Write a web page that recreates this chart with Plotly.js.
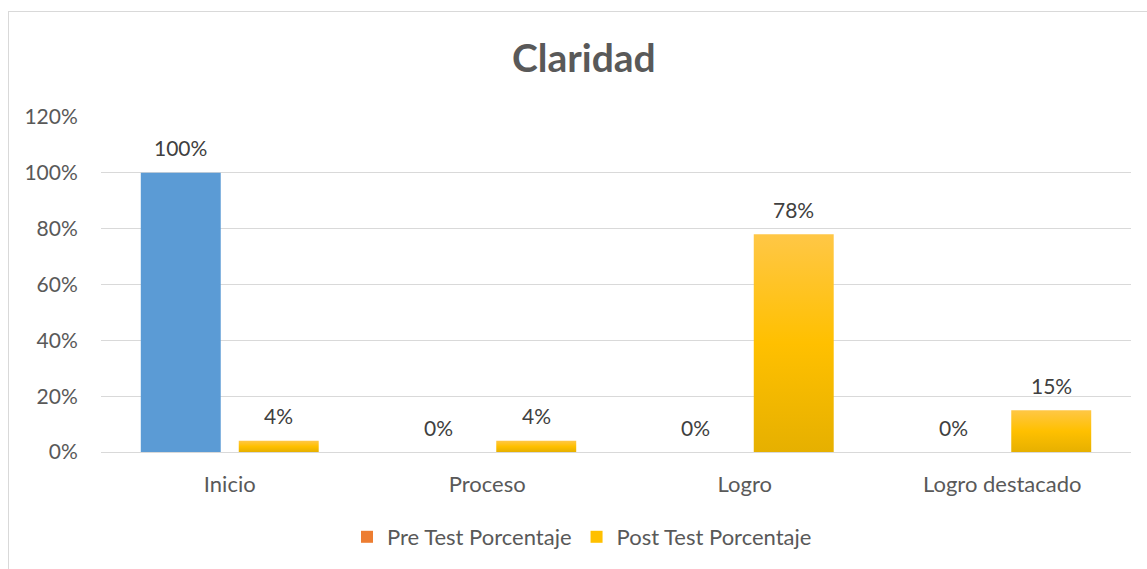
<!DOCTYPE html>
<html>
<head>
<meta charset="utf-8">
<script src="https://cdn.plot.ly/plotly-3.0.1.min.js"></script>
<style>
  html, body { margin: 0; padding: 0; background: #fff; overflow: hidden; }
  #frame { position: absolute; left: 8px; top: 11px; width: 1200px; height: 600px; border: 1px solid #d9d9d9; box-sizing: border-box; pointer-events: none; z-index: 5; }
  #chart { position: absolute; left: 0; top: 0; width: 1147px; height: 569px; }
</style>
</head>
<body>
<div id="chart"></div>
<div id="frame"></div>
<script>
const categories = ["Inicio", "Proceso", "Logro", "Logro destacado"];
const preTest = [100, 0, 0, 0];
const postTest = [4, 4, 78, 15];
const preBarColors = ["#5B9BD5", "#ED7D31", "#ED7D31", "#ED7D31"];
const preLegendColor = "#ED7D31";
const postColor = "#FFC000";
const postGradient = ["#FFC746", "#FFC000", "#E6B000"];
const tickVals = [0, 20, 40, 60, 80, 100, 120];

const FONT = "Lato, 'Open Sans', sans-serif";
const labelFont = { family: FONT, size: 21, color: "#404040" };
const GROUP_SHIFT = 49;
const LABEL_LIFT = 25;

const traces = [
  {
    type: "bar",
    name: "Pre Test Porcentaje",
    x: categories,
    y: preTest,
    offsetgroup: "pre",
    marker: { color: preBarColors },
    showlegend: false,
    hoverinfo: "x+y"
  },
  {
    type: "bar",
    name: "Pre Test Porcentaje",
    x: [categories[0]],
    y: [null],
    offsetgroup: "pre",
    marker: { color: preLegendColor },
    showlegend: true,
    hoverinfo: "skip"
  },
  {
    type: "bar",
    name: "Post Test Porcentaje",
    x: categories,
    y: postTest,
    offsetgroup: "post",
    marker: { color: postColor },
    showlegend: true,
    hoverinfo: "x+y"
  }
];

function labels(values, shift) {
  return values.map((v, i) => ({
    x: categories[i], y: v, xref: "x", yref: "y",
    text: v + "%", showarrow: false,
    xanchor: "center", yanchor: "middle",
    xshift: shift, yshift: LABEL_LIFT,
    font: labelFont
  }));
}

const layout = {
  width: 1147,
  height: 569,
  margin: { l: 101, r: 16, t: 117, b: 116 },
  paper_bgcolor: "rgba(0,0,0,0)",
  plot_bgcolor: "#fff",
  barmode: "group",
  bargap: 0.239,
  bargroupgap: 0.184,
  title: {
    text: "<b>Claridad</b>",
    font: { family: FONT, size: 39, color: "#595959" },
    x: 0.509,
    xanchor: "center",
    y: 0.898,
    yanchor: "middle"
  },
  xaxis: {
    type: "category",
    categoryorder: "array",
    categoryarray: categories,
    tickfont: { family: FONT, size: 22, color: "#595959" },
    showline: true,
    linecolor: "#d9d9d9",
    linewidth: 1,
    ticks: "outside",
    ticklen: 13,
    tickcolor: "rgba(0,0,0,0)",
    automargin: false
  },
  yaxis: {
    range: [0, 120],
    tickvals: tickVals,
    ticktext: tickVals.map(v => v + "%"),
    tickfont: { family: FONT, size: 21, color: "#595959" },
    showgrid: true,
    gridcolor: "#d9d9d9",
    gridwidth: 1,
    zeroline: false,
    ticks: "outside",
    ticklen: 18,
    tickcolor: "rgba(0,0,0,0)",
    automargin: false
  },
  annotations: labels(preTest, -GROUP_SHIFT).concat(labels(postTest, GROUP_SHIFT)),
  legend: {
    orientation: "h",
    x: 0.467,
    xanchor: "center",
    y: -0.25,
    yanchor: "middle",
    font: { family: FONT, size: 22, color: "#595959" },
    itemwidth: 30,
    traceorder: "normal"
  },
  showlegend: true
};

Plotly.newPlot("chart", traces, layout, { displayModeBar: false, staticPlot: true }).then(gd => {
  const svg = gd.querySelector("svg.main-svg");
  const NS = "http://www.w3.org/2000/svg";
  let defs = svg.querySelector("defs");
  if (!defs) { defs = document.createElementNS(NS, "defs"); svg.insertBefore(defs, svg.firstChild); }
  const grad = document.createElementNS(NS, "linearGradient");
  grad.setAttribute("id", "postGrad");
  grad.setAttribute("x1", "0"); grad.setAttribute("y1", "0");
  grad.setAttribute("x2", "0"); grad.setAttribute("y2", "1");
  postGradient.forEach((c, i) => {
    const s = document.createElementNS(NS, "stop");
    s.setAttribute("offset", String(i / (postGradient.length - 1)));
    s.setAttribute("stop-color", c);
    grad.appendChild(s);
  });
  defs.appendChild(grad);
  const barTraces = gd.querySelectorAll(".barlayer .trace");
  const last = barTraces[barTraces.length - 1];
  if (last) last.querySelectorAll("path").forEach(p => { p.style.fill = "url(#postGrad)"; });
});
</script>
</body>
</html>
